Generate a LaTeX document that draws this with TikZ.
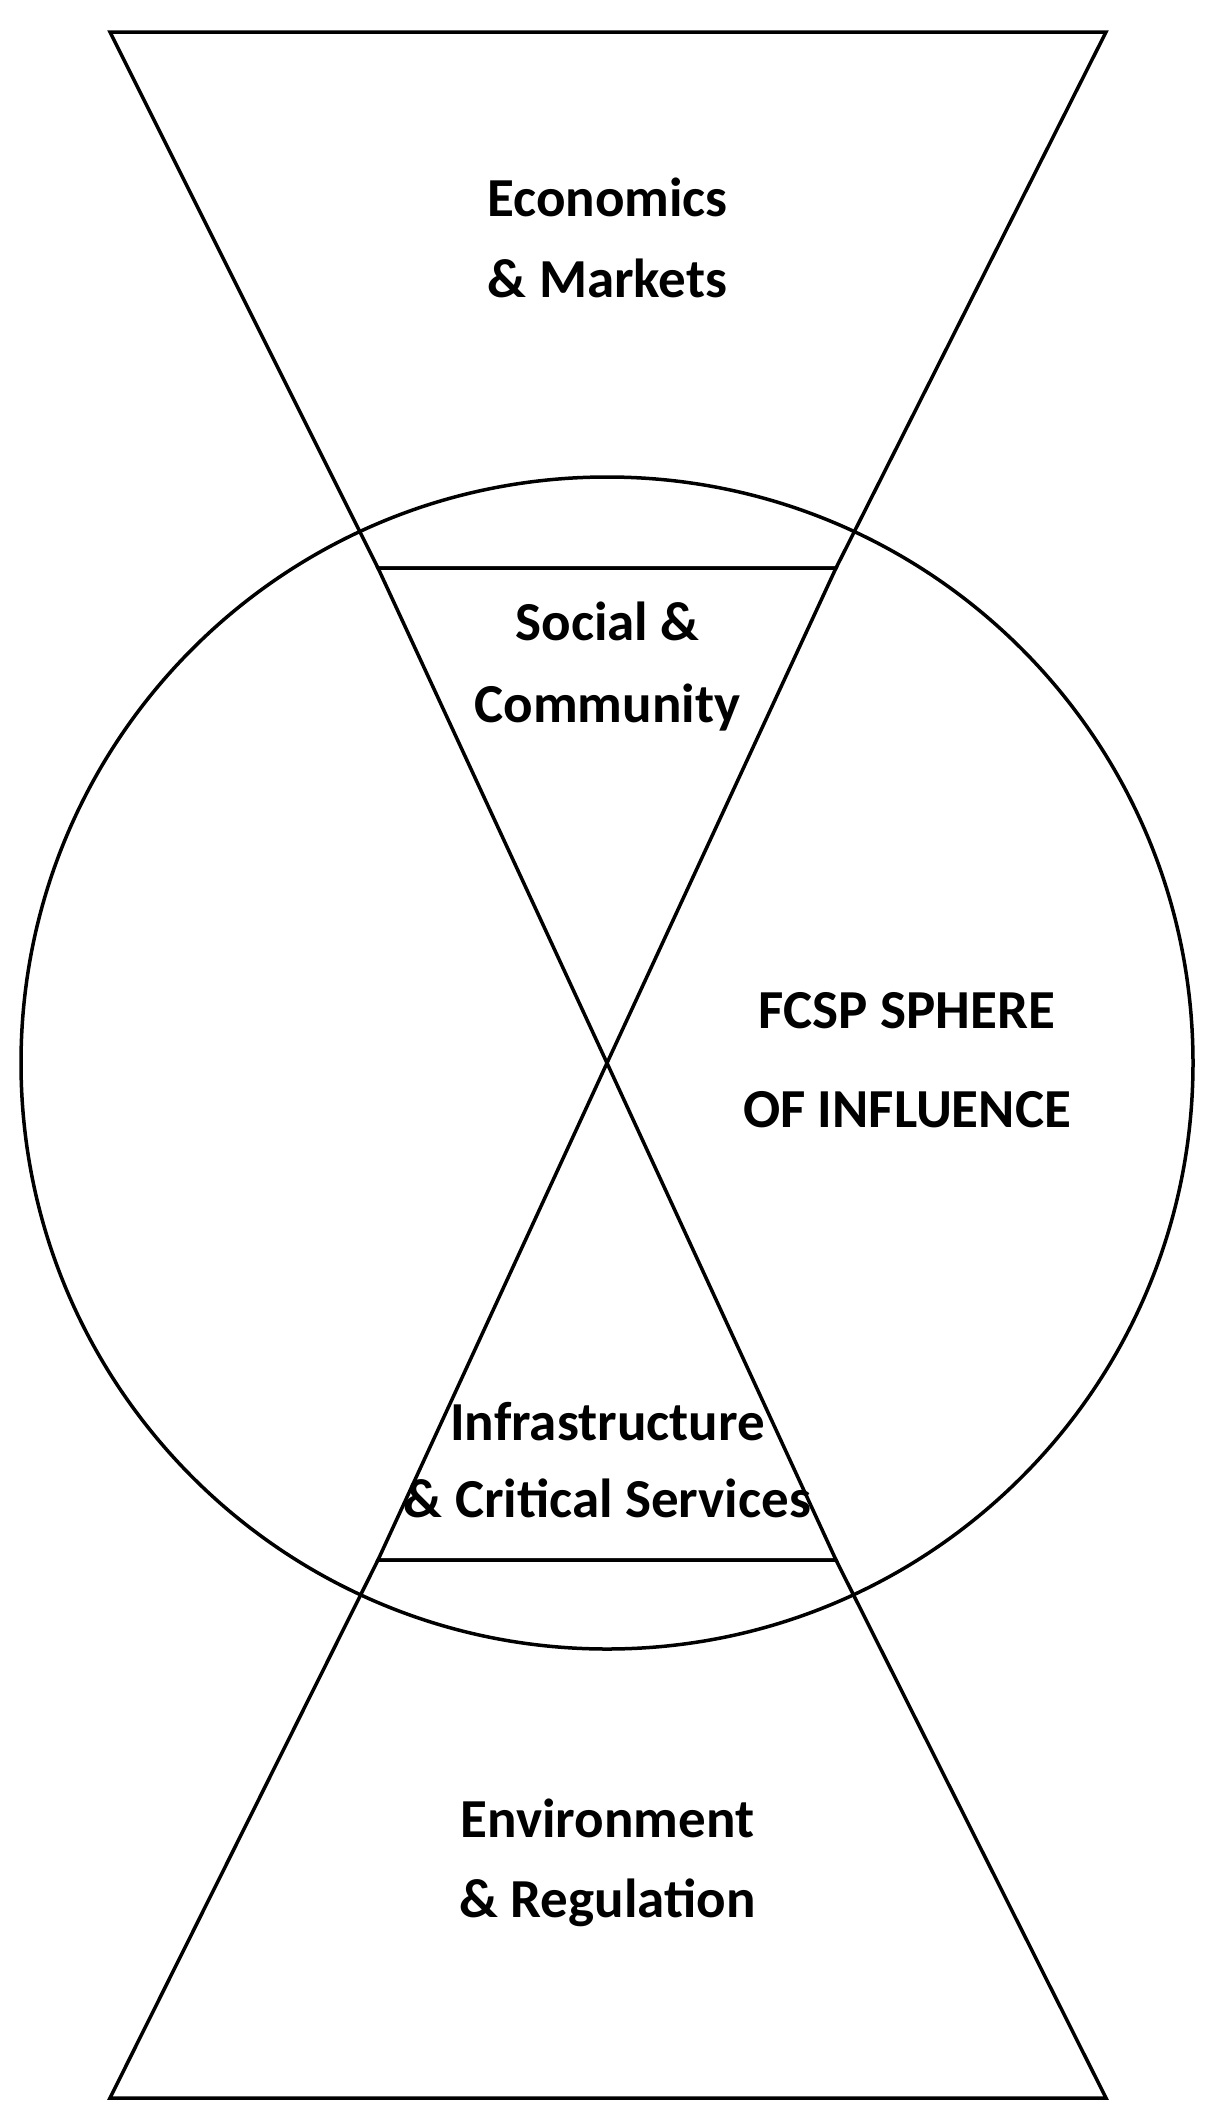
\documentclass[tikz,border=0pt]{standalone}
\usepackage{fontspec}
\setmainfont{Carlito}
\begin{document}
\begin{tikzpicture}[x=1pt, y=-1pt, line width=3.5pt,
  lbl/.style={anchor=base, inner sep=0pt, font=\fontsize{55}{66}\selectfont\bfseries}]
\useasboundingbox (0,0) rectangle (1211,2120);
% corners of the hourglass
\coordinate (tl) at (110,32);
\coordinate (tr) at (1106,32);
\coordinate (ul) at (378,568);
\coordinate (ur) at (836,568);
\coordinate (mid) at (607,1063);
\coordinate (ll) at (378,1560);
\coordinate (lr) at (836,1560);
\coordinate (bl) at (110,2098);
\coordinate (br) at (1106,2098);

\draw (mid) circle[radius=586pt];

\draw (tl) -- (tr) -- (ur) -- (ul) -- cycle;
\draw (ul) -- (ur) -- (mid) -- cycle;
\draw (ll) -- (lr) -- (mid) -- cycle;
\draw (ll) -- (lr) -- (br) -- (bl) -- cycle;

% labels
\node[lbl] (econ) at (607.5,216) {Economics};
\node[lbl] (mark) at (607.5,297) {\& Markets};
\node[lbl] (soc) at (607.5,640) {Social \&};
\node[lbl] (comm) at (607.5,722) {Community};
\node[lbl] (fcsp) at (907,1028) {FCSP SPHERE};
\node[lbl] (infl) at (907,1127) {OF INFLUENCE};
\node[lbl] (infra) at (607.5,1440) {Infrastructure};
\node[lbl] (crit) at (607.5,1517) {\& Critical Services};
\node[lbl] (env) at (607.5,1837) {Environment};
\node[lbl] (reg) at (607.5,1917) {\& Regulation};
\end{tikzpicture}
\end{document}
